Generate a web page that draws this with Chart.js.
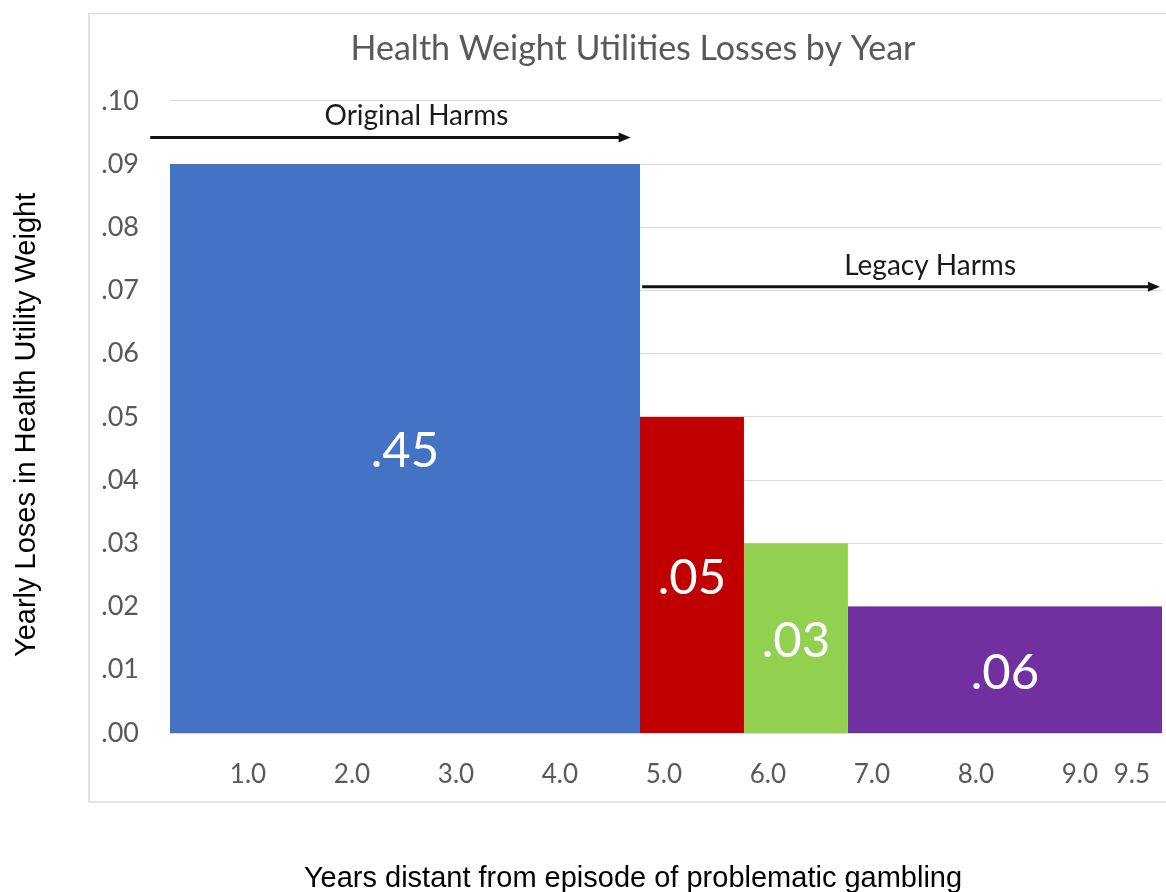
<!DOCTYPE html>
<html><head><meta charset="utf-8">
<script src="https://cdn.jsdelivr.net/npm/chart.js@4.4.1/dist/chart.umd.min.js"></script>
<style>html,body{margin:0;padding:0;background:#fff;overflow:hidden}canvas{display:block}</style>
</head><body>
<canvas id="c" width="1166" height="892"></canvas>
<script>
// ---- data ----
const barLabels = ['.45', '.05', '.03', '.06'];
const barValues = [0.09, 0.05, 0.03, 0.02];
const barStartYears = [0.25, 4.77, 5.77, 6.77];
const barEndYears = [4.77, 5.77, 6.77, 9.79];
const xTickValues = [1, 2, 3, 4, 5, 6, 7, 8, 9, 9.5];
const xTickLabels = ['1.0', '2.0', '3.0', '4.0', '5.0', '6.0', '7.0', '8.0', '9.0', '9.5'];
const yTickValues = [0, 0.01, 0.02, 0.03, 0.04, 0.05, 0.06, 0.07, 0.08, 0.09, 0.10];
const yTickLabels = ['.00', '.01', '.02', '.03', '.04', '.05', '.06', '.07', '.08', '.09', '.10'];
const harmLabels = ['Original Harms', 'Legacy Harms'];
const harmFromYears = [0.06, 4.79];
const harmToYears = [4.68, 9.77];
const harmLevels = [0.0942, 0.0706];
const harmLabelYears = [2.62, 7.56];

// ---- styles ----
const barColors = ['#4472C4', '#C00000', '#92D050', '#7030A0'];
const gray = '#595959';

const datasets = barValues.map((v, i) => ({
  label: barLabels[i],
  data: [{x: barStartYears[i], y: v}, {x: barEndYears[i], y: v}],
  backgroundColor: barColors[i],
  borderColor: barColors[i],
  borderWidth: 0,
  pointRadius: 0,
  fill: 'origin',
  tension: 0
}));

const framePlugin = {
  id: 'frame',
  beforeDraw(chart) {
    const ctx = chart.ctx;
    ctx.save();
    ctx.fillStyle = '#fff';
    ctx.fillRect(0, 0, chart.width, chart.height);
    ctx.strokeStyle = '#DADADA';
    ctx.lineWidth = 1.5;
    ctx.strokeRect(89, 13.5, 1100, 788.5);
    ctx.restore();
  }
};

// re-centre the chart title and axis titles on the framed chart box
const titleCenterPlugin = {
  id: 'titleCenter',
  afterLayout(chart) {
    if (chart.titleBlock) { chart.titleBlock.left = 89; chart.titleBlock.right = 1177; }
    const xs = chart.scales.x, ys = chart.scales.y;
    const proto = Object.getPrototypeOf(xs);
    xs.drawTitle = function () {
      const l = this.left, r = this.right;
      this.left = 89; this.right = 1177;
      proto.drawTitle.call(this);
      this.left = l; this.right = r;
    };
    ys.drawTitle = function () {
      const t = this.top, b = this.bottom;
      this.top = t + 8; this.bottom = b + 8;
      proto.drawTitle.call(this);
      this.top = t; this.bottom = b;
    };
  }
};

const barLabelPlugin = {
  id: 'barLabels',
  afterDatasetsDraw(chart) {
    const ctx = chart.ctx, xs = chart.scales.x, ys = chart.scales.y;
    ctx.save();
    ctx.fillStyle = '#fff';
    ctx.font = '49px Lato';
    ctx.textAlign = 'center';
    ctx.textBaseline = 'middle';
    barValues.forEach((v, i) => {
      const x = xs.getPixelForValue((barStartYears[i] + barEndYears[i]) / 2);
      const y = ys.getPixelForValue(v / 2) + 3;
      ctx.fillText(barLabels[i], x, y);
    });
    ctx.restore();
  }
};

const harmPlugin = {
  id: 'harms',
  afterDatasetsDraw(chart) {
    const ctx = chart.ctx, xs = chart.scales.x, ys = chart.scales.y;
    ctx.save();
    harmLabels.forEach((t, i) => {
      const x0 = xs.getPixelForValue(harmFromYears[i]);
      const x1 = xs.getPixelForValue(harmToYears[i]);
      const y = ys.getPixelForValue(harmLevels[i]);
      ctx.strokeStyle = '#111';
      ctx.fillStyle = '#111';
      ctx.lineWidth = 3;
      ctx.beginPath();
      ctx.moveTo(x0, y);
      ctx.lineTo(x1 - 8, y);
      ctx.stroke();
      ctx.beginPath();
      ctx.moveTo(x1, y);
      ctx.lineTo(x1 - 12, y - 5);
      ctx.lineTo(x1 - 12, y + 5);
      ctx.closePath();
      ctx.fill();
      ctx.font = '28px Lato';
      ctx.textAlign = 'center';
      ctx.textBaseline = 'middle';
      ctx.fillStyle = '#1a1a1a';
      ctx.fillText(t, xs.getPixelForValue(harmLabelYears[i]), y - 21);
    });
    ctx.restore();
  }
};

function draw() {
  new Chart(document.getElementById('c'), {
    type: 'line',
    data: {datasets},
    options: {
      responsive: false,
      animation: false,
      devicePixelRatio: 1,
      layout: {padding: {left: 0, top: 0, right: 4, bottom: 0}},
      plugins: {
        legend: {display: false},
        tooltip: {enabled: false},
        title: {
          display: true,
          text: 'Health Weight Utilities Losses by Year',
          color: gray,
          font: {family: 'Lato', size: 34, weight: 'normal'},
          padding: {top: 29, bottom: 31}
        }
      },
      scales: {
        x: {
          type: 'linear',
          min: 0.25,
          max: 9.79,
          afterBuildTicks(scale) { scale.ticks = xTickValues.map(v => ({value: v})); },
          afterFit(scale) { scale.height = 159; scale.paddingLeft = 0; scale.paddingRight = 0; },
          ticks: {
            autoSkip: false,
            maxRotation: 0,
            padding: 26,
            color: gray,
            font: {family: 'Lato', size: 26},
            callback: (v) => xTickLabels[xTickValues.indexOf(v)]
          },
          grid: {display: false, drawTicks: false},
          border: {display: false},
          title: {
            display: true,
            text: 'Years distant from episode of problematic gambling',
            color: '#000',
            font: {family: 'Liberation Sans', size: 29, lineHeight: 0.9},
            padding: {top: 0, bottom: 0}
          }
        },
        y: {
          min: 0,
          max: 0.1,
          afterBuildTicks(scale) { scale.ticks = yTickValues.map(v => ({value: v})); },
          afterFit(scale) { scale.width = 170; },
          ticks: {
            padding: 31,
            color: gray,
            font: {family: 'Lato', size: 27},
            callback: (v, i) => yTickLabels[i]
          },
          grid: {color: '#D9D9D9', lineWidth: 1, drawTicks: false},
          border: {display: false},
          title: {
            display: true,
            text: 'Yearly Loses in Health Utility Weight',
            color: '#000',
            font: {family: 'Liberation Sans', size: 29},
            padding: {top: 10, bottom: 0}
          }
        }
      }
    },
    plugins: [framePlugin, titleCenterPlugin, barLabelPlugin, harmPlugin]
  });
}
if (document.fonts && document.fonts.load) {
  Promise.all([document.fonts.load('27px Lato'), document.fonts.load('24px "Liberation Sans"')]).then(draw, draw);
} else { draw(); }
</script>
</body></html>
